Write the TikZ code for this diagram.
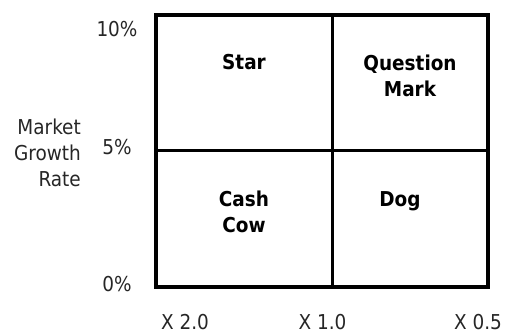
\documentclass[tikz,border=0pt]{standalone}
\usepackage{fontspec}
\setmainfont{DejaVu Sans Condensed}
\begin{document}
\begin{tikzpicture}[x=1pt,y=-1pt,
  every node/.style={inner sep=0pt, font=\fontsize{20.5}{26}\selectfont},
  quad/.style={anchor=base, align=center, font=\fontsize{20.5}{26}\selectfont\bfseries},
  tick/.style={anchor=base, text=black!85},
  frame/.style={line width=3.5pt},
  divider/.style={line width=3pt}]
\useasboundingbox (0,0) rectangle (507,334);
% matrix frame and dividers
\draw[frame] (156,15) rectangle (488,287);
\coordinate (vtop) at (332,15);
\coordinate (vbot) at (332,287);
\coordinate (hl) at (156,151);
\coordinate (hr) at (488,151);
\draw[divider] (vtop) -- (vbot);
\draw[divider] (hl) -- (hr);
% quadrant labels (base anchor sits on the last line)
\node[quad] (star) at (244,70) {Star};
\node[quad] (qm) at (410,96.5) {Question\\Mark};
\node[quad] (cow) at (244,233) {Cash\\Cow};
\node[quad] (dog) at (400,207) {Dog};
% growth-rate ticks
\node[tick] (g10) at (117,36.5) {10\%};
\node[tick] (g5) at (117,155) {5\%};
\node[tick] (g0) at (117,292) {0\%};
% axis title
\node[anchor=base east, align=right, text=black!85] (ytitle) at (81,187) {Market\\Growth\\Rate};
% relative share ticks
\node[tick] (s2) at (185,330) {X 2.0};
\node[tick] (s1) at (322.5,330) {X 1.0};
\node[tick] (s05) at (478,330) {X 0.5};
\end{tikzpicture}
\end{document}
